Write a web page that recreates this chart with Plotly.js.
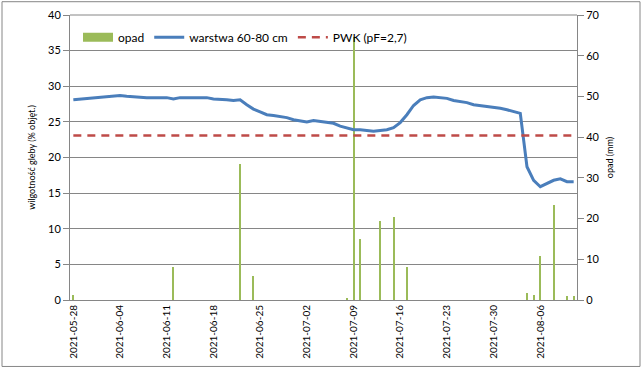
<!DOCTYPE html>
<html>
<head>
<meta charset="utf-8">
<script src="https://cdn.plot.ly/plotly-3.0.1.min.js"></script>
<style>
html,body{margin:0;padding:0;background:#fff;}
#chart{width:644px;height:369px;}
</style>
</head>
<body>
<div id="chart"></div>
<script>
// ---- data ----
const startDate = '2021-05-28';
const soilMoisture = [
 28.1,28.2,28.3,28.3,28.5,28.5,28.6,28.7,28.6,28.5,
 28.5,28.4,28.4,28.4,28.4,28.2,28.4,28.4,28.4,28.4,
 28.4,28.2,28.2,28.1,28.0,28.1,27.4,26.8,26.4,26.0,
 25.9,25.8,25.6,25.3,25.1,25.0,25.2,25.1,25.0,24.8,
 24.4,24.1,23.9,23.9,23.8,23.7,23.8,23.9,24.2,24.9,
 26.0,27.3,28.1,28.4,28.5,28.4,28.3,28.0,27.9,27.7,
 27.4,27.3,27.2,27.0,26.9,26.7,26.5,26.2,18.7,16.8,
 15.9,16.3,16.8,17.0,16.6,16.6
];
const rainDates = ['2021-05-28','2021-06-12','2021-06-22','2021-06-24','2021-07-08','2021-07-09',
  '2021-07-10','2021-07-13','2021-07-15','2021-07-17','2021-08-04','2021-08-05',
  '2021-08-06','2021-08-08','2021-08-10','2021-08-11'];
const rainValues = [1.2,8.0,33.5,6.0,0.5,64.5,15.0,19.5,20.5,8.2,1.6,1.2,10.7,23.4,1.1,1.1];
const pwkValue = 23.1;
const tickDates = ['2021-05-28','2021-06-04','2021-06-11','2021-06-18','2021-06-25','2021-07-02',
  '2021-07-09','2021-07-16','2021-07-23','2021-07-30','2021-08-06'];
const names = {rain:'opad', soil:'warstwa 60-80 cm', pwk:'PWK (pF=2,7)'};
const yTitleLeft = 'wilgotność gleby (% objęt.)';
const yTitleRight = 'opad (mm)';

function addDays(iso, n){
  const d = new Date(iso+'T00:00:00Z'); d.setUTCDate(d.getUTCDate()+n);
  return d.toISOString().slice(0,10);
}
const soilDates = soilMoisture.map((_,i)=>addDays(startDate,i));
const lastDate = soilDates[soilDates.length-1];
const DAY = 86400000;

const font = "Lato, 'Open Sans', sans-serif";
const grey = '#868686';

const traces = [
  { // legend proxy for bars
    type:'scatter', mode:'lines', x:[null], y:[null], name:names.rain,
    line:{color:'#9BBB59', width:9}, yaxis:'y', hoverinfo:'skip'
  },
  {
    type:'bar', x:rainDates, y:rainValues, name:names.rain, showlegend:false,
    marker:{color:'#9BBB59', line:{width:0}}, width:rainDates.map(()=>0.3*DAY),
    yaxis:'y'
  },
  {
    type:'scatter', mode:'lines', x:soilDates, y:soilMoisture, name:names.soil,
    line:{color:'#4A7EBB', width:3}, yaxis:'y2'
  },
  {
    type:'scatter', mode:'lines', x:[startDate, lastDate], y:[pwkValue, pwkValue], name:names.pwk,
    line:{color:'#BE4B48', width:2.5, dash:'8px,6px'}, yaxis:'y2'
  }
];

const plotTop=15.3, plotBottom=300.5, plotLeft=70, plotRight=577;
const pw = plotRight-plotLeft, ph = plotBottom-plotTop;
const layout = {
  width:644, height:369,
  margin:{l:plotLeft, r:644-plotRight, t:plotTop, b:369-plotBottom, pad:0},
  paper_bgcolor:'#fff', plot_bgcolor:'#fff',
  font:{family:font, color:'#000', size:11},
  showlegend:true,
  legend:{orientation:'h', x:(78-plotLeft)/pw, y:(plotBottom-37.5)/ph, xanchor:'left', yanchor:'middle',
    bgcolor:'rgba(0,0,0,0)', font:{size:12, family:font}, traceorder:'normal'},
  bargap:0,
  xaxis:{
    type:'date',
    tickvals:tickDates, ticktext:tickDates, tickangle:-90,
    tickfont:{size:10, family:font}, showgrid:false, zeroline:false,
    showline:true, linecolor:grey, linewidth:1, ticks:''
  },
  yaxis:{ // precipitation axis (right)
    side:'right', range:[0,70], dtick:10, showgrid:false, zeroline:false,
    showline:true, linecolor:grey, linewidth:1, ticks:'outside', ticklen:6, tickcolor:grey,
    tickfont:{size:11, family:font},
    title:{text:yTitleRight, font:{size:9, family:font}, standoff:8}
  },
  yaxis2:{ // soil moisture axis (left)
    side:'left', overlaying:'y', range:[0,40], dtick:5, showgrid:true, gridcolor:grey, gridwidth:1,
    zeroline:false, showline:true, linecolor:grey, linewidth:1, ticks:'outside', ticklen:6, tickcolor:grey,
    tickfont:{size:11, family:font},
    title:{text:yTitleLeft, font:{size:9, family:font}, standoff:10}
  },
  shapes:[{
    type:'rect', xref:'paper', yref:'paper',
    x0:(2-plotLeft)/pw, x1:(640-plotLeft)/pw,
    y0:(plotBottom-367)/ph, y1:(plotBottom-2)/ph,
    line:{color:grey, width:1}, fillcolor:'rgba(0,0,0,0)', layer:'below'
  },{
    type:'line', xref:'paper', yref:'paper', x0:0, x1:1, y0:1, y1:1,
    line:{color:grey, width:1}, layer:'below'
  }]
};
layout.xaxis.range = [new Date(new Date(startDate+'T00:00:00Z').getTime()-0.5*DAY).toISOString(),
                      new Date(new Date(lastDate+'T00:00:00Z').getTime()+0.5*DAY).toISOString()];

Plotly.newPlot('chart', traces, layout, {displayModeBar:false, staticPlot:true});
</script>
</body>
</html>
